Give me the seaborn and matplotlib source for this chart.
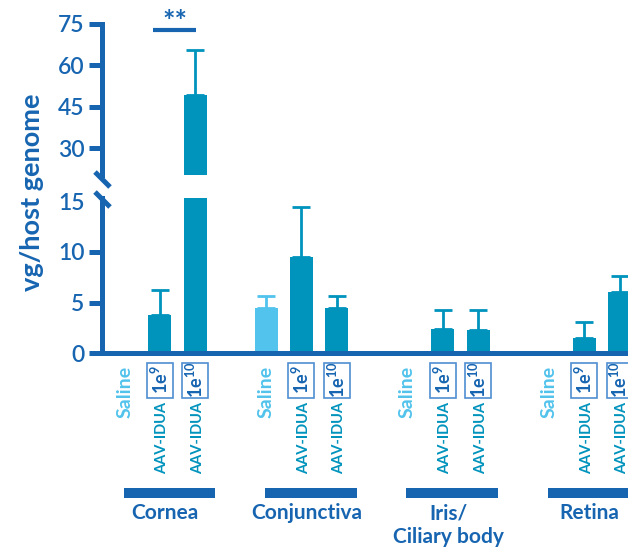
import numpy as np
import pandas as pd
import matplotlib
matplotlib.use("Agg")
import matplotlib.pyplot as plt
import matplotlib.transforms as mtransforms
from matplotlib.lines import Line2D
from matplotlib.patches import Rectangle
import seaborn as sns

# Vector genomes per host genome, mean and SEM per tissue and dose
tissues = ["Cornea", "Conjunctiva", "Iris/\nCiliary body", "Retina"]
doses = ["Saline", "1e9", "1e10"]
dose_labels = ["Saline", r"$\mathbf{1e^{9}}$", r"$\mathbf{1e^{10}}$"]
saline_mean = [0.0, 4.5, 0.0, 0.0]
low_mean = [3.78, 9.54, 2.37, 1.54]
high_mean = [49.3, 4.5, 2.30, 6.02]
saline_sem = [0.0, 1.16, 0.0, 0.0]
low_sem = [2.47, 4.90, 1.90, 1.58]
high_sem = [16.3, 1.16, 1.97, 1.61]
yticks_low = [0, 5, 10, 15]
yticks_high = [30, 45, 60, 75]
ylim_low = (0, 15.3)
ylim_high = (20.3, 75)

sns.set_theme(style="white")
plt.rcParams["font.family"] = ["Lato", "DejaVu Sans"]
plt.rcParams["mathtext.fontset"] = "custom"
plt.rcParams["mathtext.rm"] = "Lato"
plt.rcParams["mathtext.bf"] = "Lato:bold"

DARK = "#1765B1"
TEAL = "#0093BC"
SKY = "#52C3EC"
BOX = "#4F8ED2"

rows = []
for g, tissue in enumerate(tissues):
    means = [saline_mean[g], low_mean[g], high_mean[g]]
    sems = [saline_sem[g], low_sem[g], high_sem[g]]
    for d, dose in enumerate(doses):
        rows.append(dict(tissue=tissue, dose=dose, pos=4 * g + d,
                         mean=means[d], sem=sems[d]))
df = pd.DataFrame(rows)
df["group"] = np.where(df["dose"] == "Saline", "Saline", "AAV-IDUA")

W, H = 628, 548
fig = plt.figure(figsize=(W / 100, H / 100), dpi=100)


def px_rect(left, top, right, bottom):
    return [left / W, 1 - bottom / H, (right - left) / W, (bottom - top) / H]


def yf(py):
    return 1 - py / H


ax_hi = fig.add_axes(px_rect(102, 24, 628, 175))
ax_lo = fig.add_axes(px_rect(102, 198.3, 628, 353.3))

for ax in (ax_hi, ax_lo):
    sns.barplot(data=df, x="pos", y="mean", hue="group",
                palette={"Saline": SKY, "AAV-IDUA": TEAL},
                native_scale=True, dodge=False, width=0.65,
                errorbar=None, legend=False, saturation=1,
                linewidth=0, ax=ax)
    for grp, col in (("Saline", SKY), ("AAV-IDUA", TEAL)):
        sub = df[(df["group"] == grp) & (df["sem"] > 0)]
        ax.errorbar(sub["pos"], sub["mean"],
                    yerr=[np.zeros(len(sub)), sub["sem"]],
                    fmt="none", ecolor=col, elinewidth=2.0,
                    capsize=6.5, capthick=2.0, zorder=1)
    ax.set_xlim(-0.64, 14.24)
    ax.set_xlabel("")
    ax.set_ylabel("")
    ax.set_xticks([])
    for side in ("top", "right"):
        ax.spines[side].set_visible(False)
    for side in ("left", "bottom"):
        ax.spines[side].set_color(DARK)
        ax.spines[side].set_linewidth(3.6)
    ax.tick_params(axis="y", left=True, length=9.5, width=3.6, color=DARK,
                   labelcolor=DARK, labelsize=16.5, pad=3)

ax_hi.spines["bottom"].set_visible(False)
ax_hi.set_ylim(*ylim_high)
ax_hi.set_yticks(yticks_high)
ax_lo.set_ylim(*ylim_low)
ax_lo.set_yticks(yticks_low)
ax_lo.yaxis.get_major_ticks()[-1].tick1line.set_visible(False)
for ax in (ax_hi, ax_lo):
    for lbl in ax.get_yticklabels():
        lbl.set_fontweight("semibold")

# axis break marks
for (x0, y0, x1, y1) in ((95, 172, 110, 187), (95, 192, 110, 207)):
    fig.add_artist(Line2D([x0 / W, x1 / W], [yf(y0), yf(y1)],
                          transform=fig.transFigure, color=DARK, lw=3.6,
                          solid_capstyle="butt"))

# significance bracket
ax_hi.plot([0.80, 2.02], [72.8, 72.8], color=DARK, lw=3.0,
           solid_capstyle="butt", clip_on=False)
ax_hi.text(1.42, 73.0, "**", ha="center", va="baseline", fontsize=21,
           fontweight="bold", color=DARK, clip_on=False)

# dose and tissue labels under the axis
blend = mtransforms.blended_transform_factory(ax_lo.transData, fig.transFigure)
box_w = 26 / 35.35
for g, tissue in enumerate(tissues):
    base = 4 * g
    ax_lo.text(base, yf(366), dose_labels[0], transform=blend, rotation=90,
               ha="center", va="top", fontsize=14, fontweight="bold",
               color=SKY, clip_on=False)
    for d in (1, 2):
        ax_lo.add_patch(Rectangle((base + d - box_w / 2, yf(398)), box_w,
                                  35 / H, transform=blend, fc="white",
                                  ec=BOX, lw=1.2, clip_on=False))
        ax_lo.text(base + d, yf(380), dose_labels[d], transform=blend,
                   rotation=90, ha="center", va="center", fontsize=13,
                   color=DARK, clip_on=False)
        ax_lo.text(base + d + 0.07, yf(402), "AAV-IDUA", transform=blend,
                   rotation=90, ha="center", va="top", fontsize=10.5,
                   fontweight="bold", color=TEAL, clip_on=False)
    ax_lo.plot([base - 0.03, base + 2.57], [yf(493), yf(493)],
               transform=blend, color=DARK, lw=7.2, solid_capstyle="butt",
               clip_on=False)
    ax_lo.text(base + 1.15, yf(503), tissue, transform=blend, ha="center",
               va="top", fontsize=15, fontweight="bold", color=DARK,
               linespacing=1.25, clip_on=False)

fig.text(32 / W, yf(192), "vg/host genome", rotation=90, ha="center",
         va="center", fontsize=19.5, fontweight="bold", color=DARK)

fig.savefig("out.png", dpi=100)
